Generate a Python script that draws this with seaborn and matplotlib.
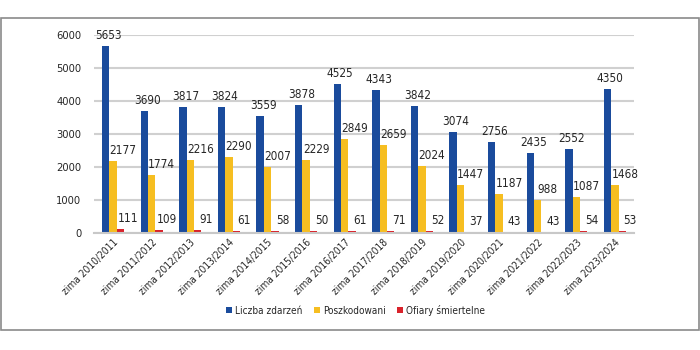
import pandas as pd
import matplotlib.pyplot as plt
import seaborn as sns
from matplotlib.patches import Rectangle

seasons = ['zima 2010/2011', 'zima 2011/2012', 'zima 2012/2013', 'zima 2013/2014',
           'zima 2014/2015', 'zima 2015/2016', 'zima 2016/2017', 'zima 2017/2018',
           'zima 2018/2019', 'zima 2019/2020', 'zima 2020/2021', 'zima 2021/2022',
           'zima 2022/2023', 'zima 2023/2024']
zdarzenia = [5653, 3690, 3817, 3824, 3559, 3878, 4525, 4343, 3842, 3074, 2756, 2435, 2552, 4350]
poszkodowani = [2177, 1774, 2216, 2290, 2007, 2229, 2849, 2659, 2024, 1447, 1187, 988, 1087, 1468]
ofiary = [111, 109, 91, 61, 58, 50, 61, 71, 52, 37, 43, 43, 54, 53]
series = ['Liczba zdarzeń', 'Poszkodowani', 'Ofiary śmiertelne']
colors = ['#1a4b9c', '#f6be21', '#d9232b']

df = pd.DataFrame({'sezon': seasons * 3,
                   'seria': [series[0]] * 14 + [series[1]] * 14 + [series[2]] * 14,
                   'wartosc': zdarzenia + poszkodowani + ofiary})

sns.set_style('white')
plt.rcParams['font.family'] = ['DejaVu Sans']
plt.rcParams['font.stretch'] = 'condensed'

fig = plt.figure(figsize=(7, 3.5), dpi=100)
ax = fig.add_axes([0.134, 0.334, 0.772, 0.566])
sns.barplot(data=df, x='sezon', y='wartosc', hue='seria', palette=colors,
            width=0.58, saturation=1, linewidth=0, ax=ax, legend=True)

# etykiety wartosci, lekko przesuniete w prawo jak w Excelu
shifts = [3, 10, 8]
for c, dx in zip(ax.containers, shifts):
    for bar in c:
        h = bar.get_height()
        ax.annotate('%d' % h, (bar.get_x() + bar.get_width() / 2, h),
                    xytext=(dx, 4), textcoords='offset pixels',
                    ha='center', va='bottom', fontsize=8.5)

ax.set_ylim(0, 6000)
ax.set_xlim(-0.5, 13.5)
ax.set_yticks(range(0, 6001, 1000))
ax.tick_params(axis='y', labelsize=8, pad=9, length=0)
ax.tick_params(axis='x', labelsize=7.3, length=0, pad=3)
plt.setp(ax.get_xticklabels(), rotation=45, ha='right', rotation_mode='anchor')
ax.set_xlabel('')
ax.set_ylabel('')
ax.yaxis.grid(True, color='#d0d0d0', linewidth=1.5)
ax.set_axisbelow(True)
for s in ['top', 'right', 'left']:
    ax.spines[s].set_visible(False)
ax.spines['bottom'].set_color('#c8c8c8')
ax.spines['bottom'].set_linewidth(1.5)

ax.legend(loc='center', bbox_to_anchor=(0.508, 0.114), bbox_transform=fig.transFigure,
          ncol=3, frameon=False, fontsize=7.2, handlelength=0.6, handleheight=0.6,
          handletextpad=0.25, columnspacing=1.2)

fig.patches.append(Rectangle((0.001, 0.057), 0.997, 0.892, transform=fig.transFigure,
                             fill=False, edgecolor='#8a8a8a', linewidth=1.2))

fig.savefig('out.png', dpi=100)
